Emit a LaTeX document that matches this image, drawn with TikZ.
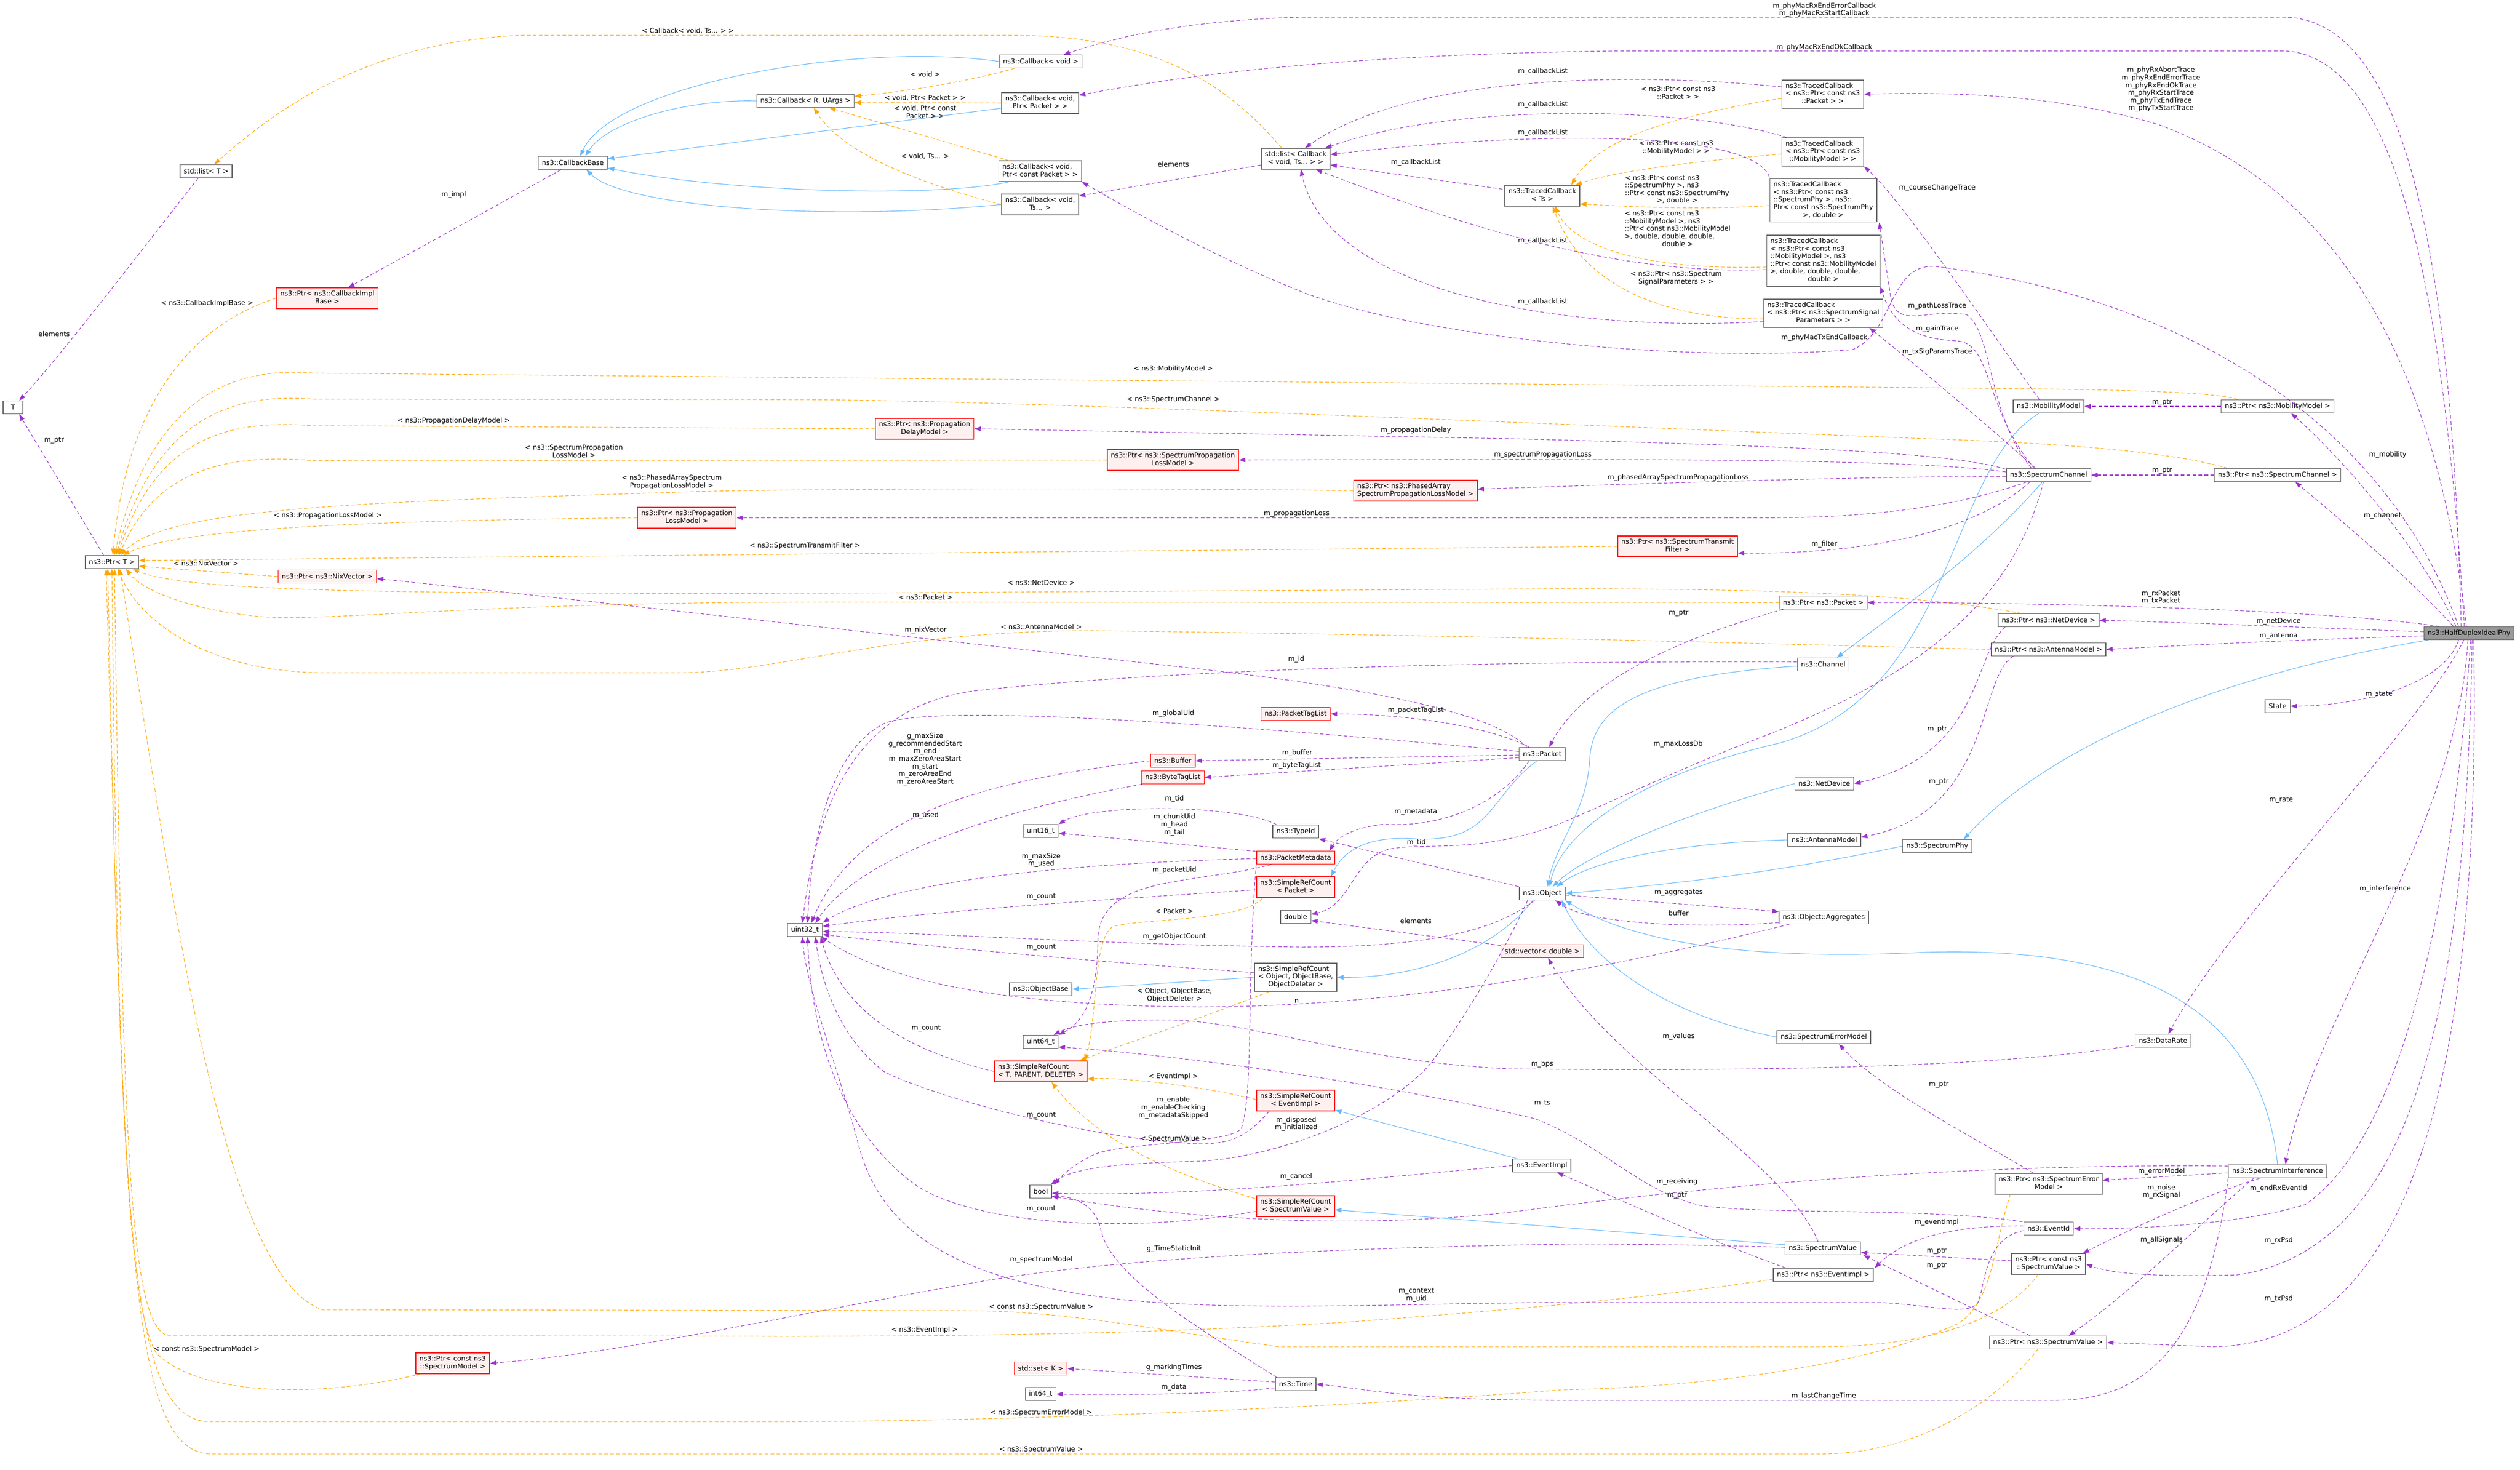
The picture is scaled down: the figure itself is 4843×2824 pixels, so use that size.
\documentclass[tikz,border=0pt]{standalone}
\usepackage{fontspec}
\setmainfont{DejaVu Sans}
\usetikzlibrary{arrows.meta,calc}
\definecolor{memberline}{HTML}{9A32CD}
\definecolor{tmplline}{HTML}{FFA500}
\definecolor{inhline}{HTML}{63B8FF}
\definecolor{boxline}{HTML}{666666}
\definecolor{redfill}{HTML}{FFF0F0}
\definecolor{rootfill}{HTML}{999999}
\newcommand{\dlines}[2]{\begin{tabular}{@{}l@{}}#1\\\multicolumn{1}{@{}c@{}}{#2}\end{tabular}}
\tikzset{
  cls/.style={draw=boxline,fill=white,line width=0.8pt,inner xsep=4pt,inner ysep=3pt,minimum height=0.5cm},
  redcls/.style={cls,draw=red,fill=redfill},
  rootcls/.style={cls,fill=rootfill},
  lbl/.style={inner sep=0pt,align=center},
  mem/.style={->,draw=memberline,line width=0.6pt,dash pattern=on 4pt off 2.5pt},
  tmpl/.style={->,draw=tmplline,line width=0.6pt,dash pattern=on 4pt off 2.5pt},
  inh/.style={->,draw=inhline,line width=0.6pt}
}
\begin{document}
\begin{tikzpicture}
  [x=0.02cm,y=-0.02cm,>={Triangle[length=7pt,width=5pt]},
   every node/.style={font=\fontsize{7.4}{8.3}\selectfont}]
  \fill[white] (0,0) rectangle (4843,2824);
  \useasboundingbox (0,0) rectangle (4843,2824);

  % classes
  \node[cls] (lstT) at (396,329) {std::list< T >};
  \node[cls] (cbbase) at (1101,313) {ns3::CallbackBase};
  \node[redcls] (ptrcib) at (629,573) {\dlines{ns3::Ptr< ns3::CallbackImpl}{Base >}};
  \node[cls,minimum width=0.76cm] (nT) at (25,783) {T};
  \node[cls] (ptrT) at (215,1080) {ns3::Ptr< T >};
  \node[redcls] (ptrnix) at (629,1108) {ns3::Ptr< ns3::NixVector >};
  \node[cls] (cbvoid) at (2000,118) {ns3::Callback< void >};
  \node[cls] (cbR) at (1548,194) {ns3::Callback< R, UArgs >};
  \node[cls] (cbpkt) at (1999,198) {\dlines{ns3::Callback< void,}{Ptr< Packet > >}};
  \node[cls] (cbcpkt) at (1999,329) {\dlines{ns3::Callback< void,}{Ptr< const Packet > >}};
  \node[cls] (cbts) at (1999,393) {\dlines{ns3::Callback< void,}{Ts... >}};
  \node[cls] (lstcb) at (2490,305) {\dlines{std::list< Callback}{< void, Ts... > >}};
  \node[cls] (tcpkt) at (3503,181) {\dlines{ns3::TracedCallback\\< ns3::Ptr< const ns3}{::Packet > >}};
  \node[cls] (tcmob) at (3503,292) {\dlines{ns3::TracedCallback\\< ns3::Ptr< const ns3}{::MobilityModel > >}};
  \node[cls] (tcts) at (2964,376) {\dlines{ns3::TracedCallback}{< Ts >}};
  \node[cls] (tcphy) at (3504,385) {\dlines{ns3::TracedCallback\\< ns3::Ptr< const ns3\\::SpectrumPhy >, ns3::\\Ptr< const ns3::SpectrumPhy}{>, double >}};
  \node[cls] (tcmob2) at (3504,501) {\dlines{ns3::TracedCallback\\< ns3::Ptr< const ns3\\::MobilityModel >, ns3\\::Ptr< const ns3::MobilityModel\\>, double, double, double,}{double >}};
  \node[cls] (tcssp) at (3504,602) {\dlines{ns3::TracedCallback\\< ns3::Ptr< ns3::SpectrumSignal}{Parameters > >}};
  \node[cls] (mob) at (3937,781) {ns3::MobilityModel};
  \node[cls] (ptrmob) at (4377,781) {ns3::Ptr< ns3::MobilityModel >};
  \node[cls] (chan) at (3937,913) {ns3::SpectrumChannel};
  \node[cls] (ptrchan) at (4377,913) {ns3::Ptr< ns3::SpectrumChannel >};
  \node[redcls] (ptrdelay) at (1777,824) {\dlines{ns3::Ptr< ns3::Propagation}{DelayModel >}};
  \node[redcls] (ptrsploss) at (2254,884) {\dlines{ns3::Ptr< ns3::SpectrumPropagation}{LossModel >}};
  \node[redcls] (ptrphased) at (2720,943) {\dlines{ns3::Ptr< ns3::PhasedArray}{SpectrumPropagationLossModel >}};
  \node[redcls] (ptrploss) at (1320,995) {\dlines{ns3::Ptr< ns3::Propagation}{LossModel >}};
  \node[redcls] (ptrfilter) at (3224,1050) {\dlines{ns3::Ptr< ns3::SpectrumTransmit}{Filter >}};
  \node[cls] (ptrpkt) at (3504,1158) {ns3::Ptr< ns3::Packet >};
  \node[cls] (ptrnd) at (3937,1192) {ns3::Ptr< ns3::NetDevice >};
  \node[cls] (ptrant) at (3937,1248) {ns3::Ptr< ns3::AntennaModel >};
  \node[rootcls] (hdip) at (4745,1217) {ns3::HalfDuplexIdealPhy};
  \node[cls] (state) at (4377,1357) {State};
  \node[cls] (channel) at (3504,1277) {ns3::Channel};
  \node[cls] (pkt) at (2964,1449) {ns3::Packet};
  \node[redcls] (ptl) at (2490,1372) {ns3::PacketTagList};
  \node[redcls] (buf) at (2254,1462) {ns3::Buffer};
  \node[redcls] (btl) at (2254,1494) {ns3::ByteTagList};
  \node[cls] (u16) at (2000,1597) {uint16\_t};
  \node[cls] (tid) at (2490,1598) {ns3::TypeId};
  \node[redcls] (pmd) at (2490,1648) {ns3::PacketMetadata};
  \node[redcls] (srcpkt) at (2490,1705) {\dlines{ns3::SimpleRefCount}{< Packet >}};
  \node[cls] (dbl) at (2490,1762) {double};
  \node[cls] (u32) at (1547,1787) {uint32\_t};
  \node[cls] (obj) at (2964,1717) {ns3::Object};
  \node[redcls] (vec) at (2964,1828) {std::vector< double >};
  \node[cls] (srcobj) at (2490,1878) {\dlines{ns3::SimpleRefCount\\< Object, ObjectBase,}{ObjectDeleter >}};
  \node[cls] (objbase) at (2000,1901) {ns3::ObjectBase};
  \node[cls] (u64) at (2000,2002) {uint64\_t};
  \node[redcls] (srcT) at (2000,2059) {\dlines{ns3::SimpleRefCount}{< T, PARENT, DELETER >}};
  \node[redcls] (srcev) at (2490,2115) {\dlines{ns3::SimpleRefCount}{< EventImpl >}};
  \node[cls] (evimpl) at (2963,2240) {ns3::EventImpl};
  \node[cls] (nbool) at (2000,2290) {bool};
  \node[redcls] (srcsv) at (2490,2318) {\dlines{ns3::SimpleRefCount}{< SpectrumValue >}};
  \node[redcls] (setK) at (2000,2630) {std::set< K >};
  \node[cls] (ntime) at (2490,2660) {ns3::Time};
  \node[cls] (i64) at (2000,2679) {int64\_t};
  \node[cls] (nd) at (3506,1506) {ns3::NetDevice};
  \node[cls] (ant) at (3506,1614) {ns3::AntennaModel};
  \node[cls] (phy) at (3723,1626) {ns3::SpectrumPhy};
  \node[cls] (aggr) at (3505,1763) {ns3::Object::Aggregates};
  \node[cls] (sem) at (3505,1993) {ns3::SpectrumErrorModel};
  \node[cls] (rate) at (4157,2000) {ns3::DataRate};
  \node[cls] (sint) at (4377,2251) {ns3::SpectrumInterference};
  \node[cls] (ptrsem) at (3937,2275) {\dlines{ns3::Ptr< ns3::SpectrumError}{Model >}};
  \node[cls] (evid) at (3937,2361) {ns3::EventId};
  \node[cls] (sv) at (3503,2399) {ns3::SpectrumValue};
  \node[cls] (ptrcsv) at (3937,2429) {\dlines{ns3::Ptr< const ns3}{::SpectrumValue >}};
  \node[cls] (ptrev) at (3504,2450) {ns3::Ptr< ns3::EventImpl >};
  \node[cls] (ptrsv) at (3936,2580) {ns3::Ptr< ns3::SpectrumValue >};
  \node[redcls] (ptrcsm) at (870,2620) {\dlines{ns3::Ptr< const ns3}{::SpectrumModel >}};

  % inheritance
  \draw[inh] (cbvoid.west) .. controls (1650,80) and (1180,160) .. ($(cbbase.north)+(14,0)$);
  \draw[inh] (cbR.west) .. controls (1330,190) and (1170,230) .. ($(cbbase.north)+(24,0)$);
  \draw[inh] ($(cbpkt.west)+(0,10)$) -- ($(cbbase.east)+(0,-8)$);
  \draw[inh] ($(cbcpkt.south west)+(20,0)$) .. controls (1800,380) and (1400,370) .. ($(cbbase.east)+(0,10)$);
  \draw[inh] (cbts.west) .. controls (1600,425) and (1200,400) .. ($(cbbase.south)+(26,0)$);
  \draw[inh] ($(mob.south)+(-18,0)$) .. controls (3740,900) and (3760,1330) .. (3420,1428) .. controls (3150,1490) and (3000,1600) .. ($(obj.north)+(14,0)$);
  \draw[inh] ($(chan.south)+(-12,0)$) .. controls (3800,1070) and (3640,1180) .. ($(channel.north)+(26,0)$);
  \draw[inh] ($(channel.west)+(0,3)$) .. controls (3150,1300) and (3060,1360) .. (3055,1460) .. controls (3050,1560) and (2990,1620) .. ($(obj.north)+(10,0)$);
  \draw[inh] ($(pkt.south)+(-10,0)$) .. controls (2860,1530) and (2870,1620) .. (2720,1612) .. controls (2620,1605) and (2580,1640) .. ($(srcpkt.north east)+(-8,0)$);
  \draw[inh] (nd.west) .. controls (3250,1560) and (3050,1640) .. ($(obj.north)+(20,0)$);
  \draw[inh] (ant.west) .. controls (3200,1620) and (3050,1660) .. ($(obj.north)+(28,0)$);
  \draw[inh] (phy.west) .. controls (3400,1680) and (3200,1700) .. (obj.east);
  \draw[inh] ($(hdip.south west)+(8,0)$) .. controls (4300,1290) and (3950,1420) .. ($(phy.north east)+(-16,0)$);
  \draw[inh] (srcobj.west) -- (objbase.east);
  \draw[inh] ($(obj.south)+(-18,0)$) .. controls (2860,1840) and (2700,1880) .. (srcobj.east);
  \draw[inh] (sem.west) .. controls (3200,1950) and (3060,1850) .. ($(obj.south)+(37,0)$);
  \draw[inh] (sint.north) .. controls (4340,1900) and (4050,1820) .. (3700,1830) .. controls (3400,1845) and (3150,1820) .. ($(obj.south)+(44,0)$);
  \draw[inh] ($(evimpl.north west)+(10,0)$) -- ($(srcev.south east)+(0,-2)$);
  \draw[inh] ($(sv.west)+(0,-7)$) -- ($(srcsv.east)+(0,7)$);

  % template instances
  \draw[tmpl] ($(cbvoid.south west)+(30,0)$) .. controls (1850,160) and (1720,178) .. ($(cbR.east)+(0,-9)$) node[lbl,at={(1778,143)}] {< void >};
  \draw[tmpl] (cbpkt.west) -- ($(cbR.east)+(0,3)$) node[lbl,at={(1778,188)}] {< void, Ptr< Packet > >};
  \draw[tmpl] ($(cbcpkt.north west)+(20,0)$) -- ($(cbR.south)+(46,0)$) node[lbl,at={(1778,217)}] {\dlines{< void, Ptr< const}{Packet > >}};
  \draw[tmpl] (cbts.west) .. controls (1720,340) and (1610,280) .. ($(cbR.south)+(16,0)$) node[lbl,at={(1778,300)}] {< void, Ts... >};
  \draw[tmpl] ($(lstcb.north)+(-27,0)$) .. controls (2350,150) and (2200,68) .. (1950,68) -- (1000,68) .. controls (700,80) and (520,220) .. ($(lstT.north east)+(-35,0)$) node[lbl,at={(1322,59)}] {< Callback< void, Ts... > >};
  \draw[tmpl] ($(tcpkt.west)+(0,8)$) .. controls (3200,225) and (3070,270) .. ($(tcts.north east)+(-17,0)$) node[lbl,at={(3225,180)}] {\dlines{< ns3::Ptr< const ns3}{::Packet > >}};
  \draw[tmpl] ($(tcmob.west)+(0,4)$) .. controls (3250,310) and (3100,330) .. ($(tcts.north east)+(-9,0)$) node[lbl,at={(3221,284)}] {\dlines{< ns3::Ptr< const ns3}{::MobilityModel > >}};
  \draw[tmpl] ($(tcphy.west)+(0,10)$) .. controls (3250,405) and (3100,395) .. ($(tcts.east)+(0,16)$) node[lbl,at={(3223,365)}] {\dlines{< ns3::Ptr< const ns3\\::SpectrumPhy >, ns3\\::Ptr< const ns3::SpectrumPhy}{>, double >}};
  \draw[tmpl] ($(tcmob2.west)+(0,12)$) .. controls (3150,520) and (3020,470) .. ($(tcts.south)+(25,0)$) node[lbl,at={(3224,441)}] {\dlines{< ns3::Ptr< const ns3\\::MobilityModel >, ns3\\::Ptr< const ns3::MobilityModel\\>, double, double, double,}{double >}};
  \draw[tmpl] ($(tcssp.west)+(0,11)$) .. controls (3150,612) and (3030,520) .. ($(tcts.south)+(20,0)$) node[lbl,at={(3221,535)}] {\dlines{< ns3::Ptr< ns3::Spectrum}{SignalParameters > >}};
  \draw[tmpl] (ptrcib.west) .. controls (350,630) and (240,800) .. ($(ptrT.north)+(2,0)$) node[lbl,at={(398,583)}] {< ns3::CallbackImplBase >};
  \draw[tmpl] ($(ptrmob.north west)+(32,0)$) .. controls (4250,750) and (4000,748) .. (3700,745) -- (600,717) .. controls (450,705) and (290,760) .. ($(ptrT.north)+(5,0)$) node[lbl,at={(2255,709)}] {< ns3::MobilityModel >};
  \draw[tmpl] ($(ptrchan.north west)+(26,0)$) .. controls (4150,862) and (3900,850) .. (3700,843) .. controls (2600,800) and (1900,768) .. (1500,768) -- (600,767) .. controls (450,755) and (300,800) .. ($(ptrT.north)+(8,0)$) node[lbl,at={(2255,768)}] {< ns3::SpectrumChannel >};
  \draw[tmpl] (ptrdelay.west) -- (600,818) .. controls (440,806) and (300,840) .. ($(ptrT.north)+(11,0)$) node[lbl,at={(872,809)}] {< ns3::PropagationDelayModel >};
  \draw[tmpl] (ptrsploss.west) -- (600,885) .. controls (440,872) and (300,900) .. ($(ptrT.north)+(14,0)$) node[lbl,at={(1103,869)}] {\dlines{< ns3::SpectrumPropagation}{LossModel >}};
  \draw[tmpl] (ptrphased.west) .. controls (2300,938) and (1500,938) .. (1300,946) .. controls (700,965) and (320,975) .. ($(ptrT.north)+(17,0)$) node[lbl,at={(1291,927)}] {\dlines{< ns3::PhasedArraySpectrum}{PropagationLossModel >}};
  \draw[tmpl] (ptrploss.west) .. controls (800,1000) and (350,1010) .. ($(ptrT.north)+(22,0)$) node[lbl,at={(630,991)}] {< ns3::PropagationLossModel >};
  \draw[tmpl] (ptrfilter.west) -- ($(ptrT.east)+(0,-3)$) node[lbl,at={(1547,1049)}] {< ns3::SpectrumTransmitFilter >};
  \draw[tmpl] (ptrnix.west) -- ($(ptrT.east)+(0,8)$) node[lbl,at={(396,1083)}] {< ns3::NixVector >};
  \draw[tmpl] ($(ptrnd.north west)+(45,0)$) .. controls (3650,1135) and (3300,1130) .. (2900,1132) -- (1600,1140) .. controls (700,1142) and (350,1135) .. ($(ptrT.south east)+(-12,0)$) node[lbl,at={(2001,1120)}] {< ns3::NetDevice >};
  \draw[tmpl] (ptrpkt.west) -- (1600,1157) .. controls (900,1157) and (650,1195) .. (500,1185) .. controls (350,1170) and (270,1130) .. ($(ptrT.south east)+(-25,0)$) node[lbl,at={(1779,1148)}] {< ns3::Packet >};
  \draw[tmpl] (ptrant.west) .. controls (3500,1240) and (2900,1222) .. (2100,1212) .. controls (1700,1212) and (1500,1293) .. (1300,1293) -- (620,1293) .. controls (380,1290) and (260,1180) .. ($(ptrT.south)+(12,0)$) node[lbl,at={(2001,1205)}] {< ns3::AntennaModel >};
  \draw[tmpl] ($(ptrcsv.south)+(-20,0)$) .. controls (3850,2540) and (3700,2588) .. (3500,2588) -- (2457,2588) .. controls (2250,2560) and (2050,2519) .. (1863,2519) -- (620,2517) .. controls (420,2450) and (330,1700) .. ($(ptrT.south)+(15,0)$) node[lbl,at={(2001,2512)}] {< const ns3::SpectrumValue >};
  \draw[tmpl] ($(ptrev.south west)+(0,-5)$) .. controls (3200,2490) and (3000,2510) .. (2600,2540) .. controls (2200,2565) and (1800,2568) .. (1500,2568) -- (320,2566) .. controls (250,2540) and (235,2200) .. ($(ptrT.south)+(5,0)$) node[lbl,at={(1777,2556)}] {< ns3::EventImpl >};
  \draw[tmpl] ($(ptrcsm.south west)+(10,0)$) .. controls (600,2690) and (380,2680) .. (300,2600) .. controls (240,2500) and (225,2000) .. (ptrT.south) node[lbl,at={(397,2593)}] {< const ns3::SpectrumModel >};
  \draw[tmpl] ($(ptrsem.south west)+(30,0)$) .. controls (3830,2400) and (3830,2500) .. (3764,2543) .. controls (3600,2620) and (3300,2665) .. (3000,2671) .. controls (2500,2710) and (1900,2732) .. (1500,2732) -- (410,2732) .. controls (250,2740) and (235,2400) .. ($(ptrT.south)+(-8,0)$) node[lbl,at={(2001,2715)}] {< ns3::SpectrumErrorModel >};
  \draw[tmpl] ($(ptrsv.south)+(-20,0)$) .. controls (3850,2680) and (3700,2794) .. (3500,2794) -- (410,2794) .. controls (250,2800) and (240,2400) .. ($(ptrT.south)+(-11,0)$) node[lbl,at={(2001,2786)}] {< ns3::SpectrumValue >};
  \draw[tmpl] ($(srcpkt.south west)+(12,0)$) .. controls (2390,1770) and (2200,1765) .. (2140,1780) .. controls (2100,1800) and (2110,1950) .. ($(srcT.north east)+(-5,0)$) node[lbl,at={(2257,1751)}] {< Packet >};
  \draw[tmpl] ($(srcobj.south west)+(28,0)$) .. controls (2300,1960) and (2150,2010) .. ($(srcT.north east)+(-15,0)$) node[lbl,at={(2257,1913)}] {\dlines{< Object, ObjectBase,}{ObjectDeleter >}};
  \draw[tmpl] ($(srcev.west)+(0,-2)$) .. controls (2300,2085) and (2150,2070) .. ($(srcT.south east)+(0,-6)$) node[lbl,at={(2255,2069)}] {< EventImpl >};
  \draw[tmpl] ($(srcsv.north west)+(-2,6)$) .. controls (2200,2240) and (2090,2170) .. ($(srcT.south)+(21,0)$) node[lbl,at={(2256,2189)}] {< SpectrumValue >};

  % members of ns3::HalfDuplexIdealPhy
  \draw[mem] ($(hdip.north)+(-15,0)$) .. controls (4710,400) and (4600,40) .. (4393,33) -- (2500,33) .. controls (2250,40) and (2120,80) .. ($(cbvoid.north east)+(-36,0)$) node[lbl,at={(3506,19)}] {m\_phyMacRxEndErrorCallback\\m\_phyMacRxStartCallback};
  \draw[mem] ($(hdip.north)+(-9,0)$) .. controls (4690,450) and (4580,110) .. (4393,98) -- (3100,98) .. controls (2600,105) and (2300,140) .. ($(cbpkt.east)+(0,-15)$) node[lbl,at={(3506,91)}] {m\_phyMacRxEndOkCallback};
  \draw[mem] ($(hdip.north)+(-5,0)$) .. controls (4680,700) and (4500,370) .. (4150,240) .. controls (3950,180) and (3750,177) .. (tcpkt.east) node[lbl,at={(4153,172)}] {m\_phyRxAbortTrace\\m\_phyRxEndErrorTrace\\m\_phyRxEndOkTrace\\m\_phyRxStartTrace\\m\_phyTxEndTrace\\m\_phyTxStartTrace};
  \draw[mem] ($(hdip.north)+(-20,0)$) .. controls (4600,850) and (4250,580) .. (3720,512) .. controls (3630,505) and (3640,640) .. (3560,672) .. controls (3200,700) and (2700,640) .. (2500,560) .. controls (2350,500) and (2200,420) .. (cbcpkt.south east) node[lbl,at={(3506,649)}] {m\_phyMacTxEndCallback};
  \draw[mem] ($(hdip.north)+(-25,0)$) .. controls (4650,1050) and (4500,880) .. ($(ptrmob.south)+(26,0)$) node[lbl,at={(4589,874)}] {m\_mobility};
  \draw[mem] ($(hdip.north)+(-30,0)$) .. controls (4640,1120) and (4500,1000) .. ($(ptrchan.south)+(34,0)$) node[lbl,at={(4578,991)}] {m\_channel};
  \draw[mem] ($(hdip.north west)+(30,0)$) .. controls (4500,1175) and (4000,1158) .. (ptrpkt.east) node[lbl,at={(4153,1148)}] {m\_rxPacket\\m\_txPacket};
  \draw[mem] ($(hdip.west)+(0,-3)$) .. controls (4400,1205) and (4200,1196) .. (ptrnd.east) node[lbl,at={(4379,1194)}] {m\_netDevice};
  \draw[mem] ($(hdip.west)+(0,5)$) .. controls (4400,1230) and (4200,1240) .. (ptrant.east) node[lbl,at={(4379,1222)}] {m\_antenna};
  \draw[mem] ($(hdip.south)+(-20,0)$) .. controls (4690,1330) and (4500,1357) .. (state.east) node[lbl,at={(4572,1334)}] {m\_state};
  \draw[mem] ($(hdip.south)+(-10,0)$) .. controls (4650,1400) and (4300,1750) .. ($(rate.north)+(10,0)$) node[lbl,at={(4384,1537)}] {m\_rate};
  \draw[mem] ($(hdip.south)+(-2,0)$) .. controls (4720,1600) and (4450,1950) .. ($(sint.north)+(15,0)$) node[lbl,at={(4584,1708)}] {m\_interference};
  \draw[mem] ($(hdip.south)+(3,0)$) .. controls (4710,1800) and (4600,2200) .. (4430,2315) .. controls (4300,2355) and (4100,2362) .. (evid.east) node[lbl,at={(4379,2284)}] {m\_endRxEventId};
  \draw[mem] ($(hdip.south)+(6,0)$) .. controls (4740,1900) and (4650,2400) .. (4300,2450) .. controls (4120,2455) and (4050,2445) .. (ptrcsv.east) node[lbl,at={(4379,2384)}] {m\_rxPsd};
  \draw[mem] ($(hdip.south)+(9,0)$) .. controls (4770,2100) and (4620,2588) .. (4250,2588) -- (ptrsv.east) node[lbl,at={(4379,2496)}] {m\_txPsd};

  % callbacks
  \draw[mem] ($(lstcb.west)+(0,12)$) -- ($(cbts.north east)+(0,4)$) node[lbl,at={(2255,316)}] {elements};
  \draw[mem] ($(tcpkt.west)+(0,-14)$) .. controls (3100,135) and (2700,150) .. ($(lstcb.north east)+(-49,0)$) node[lbl,at={(2965,137)}] {m\_callbackList};
  \draw[mem] ($(tcmob.north west)+(10,0)$) .. controls (3250,205) and (2800,195) .. ($(lstcb.north east)+(-10,0)$) node[lbl,at={(2965,201)}] {m\_callbackList};
  \draw[mem] ($(tcphy.north west)+(0,-2)$) .. controls (3370,250) and (2950,250) .. ($(lstcb.east)+(0,-8)$) node[lbl,at={(2965,255)}] {m\_callbackList};
  \draw[mem] ($(tcts.north west)+(-4,8)$) -- ($(lstcb.east)+(0,12)$) node[lbl,at={(2721,312)}] {m\_callbackList};
  \draw[mem] ($(tcmob2.west)+(0,17)$) .. controls (3100,530) and (2800,430) .. ($(lstcb.south east)+(-28,0)$) node[lbl,at={(2965,463)}] {m\_callbackList};
  \draw[mem] ($(tcssp.west)+(0,16)$) .. controls (3000,640) and (2550,560) .. ($(lstcb.south)+(10,0)$) node[lbl,at={(2965,580)}] {m\_callbackList};
  \draw[mem] ($(cbbase.south)+(-23,0)$) -- ($(ptrcib.north east)+(-58,0)$) node[lbl,at={(872,374)}] {m\_impl};
  \draw[mem] ($(lstT.south)+(-15,0)$) .. controls (280,470) and (120,680) .. ($(nT.north)+(12,0)$) node[lbl,at={(104,642)}] {elements};
  \draw[mem] ($(ptrT.north)+(-16,0)$) -- ($(nT.south)+(12,0)$) node[lbl,at={(104,846)}] {m\_ptr};

  % mobility and channel
  \draw[mem] ($(mob.north)+(-18,0)$) .. controls (3800,600) and (3650,380) .. (tcmob.south east) node[lbl,at={(3723,361)}] {m\_courseChangeTrace};
  \draw[mem] ($(chan.north)+(-33,0)$) .. controls (3820,800) and (3830,640) .. (3780,605) .. controls (3700,590) and (3640,640) .. (3632,560) -- ($(tcphy.south east)+(4,0)$) node[lbl,at={(3723,588)}] {m\_pathLossTrace};
  \draw[mem] ($(chan.north)+(-28,0)$) .. controls (3810,780) and (3830,660) .. (3760,655) .. controls (3690,652) and (3640,630) .. (tcmob2.south east) node[lbl,at={(3723,632)}] {m\_gainTrace};
  \draw[mem] ($(chan.north)+(-25,0)$) .. controls (3800,800) and (3680,700) .. ($(tcssp.south east)+(-27,0)$) node[lbl,at={(3723,676)}] {m\_txSigParamsTrace};
  \draw[mem] (ptrmob.west) -- (mob.east) node[lbl,at={(4155,773)}] {m\_ptr};
  \draw[mem] (ptrchan.west) -- (chan.east) node[lbl,at={(4155,904)}] {m\_ptr};
  \draw[mem] ($(chan.west)+(0,-11)$) .. controls (3750,868) and (3400,856) .. (2900,843) -- (ptrdelay.east) node[lbl,at={(2721,827)}] {m\_propagationDelay};
  \draw[mem] ($(chan.west)+(0,-6)$) .. controls (3700,885) and (3300,883) .. (2900,883) -- (ptrsploss.east) node[lbl,at={(2965,874)}] {m\_spectrumPropagationLoss};
  \draw[mem] ($(chan.west)+(0,3)$) .. controls (3600,915) and (3200,928) .. ($(ptrphased.east)+(0,-3)$) node[lbl,at={(3225,918)}] {m\_phasedArraySpectrumPropagationLoss};
  \draw[mem] ($(chan.south west)+(40,0)$) .. controls (3800,960) and (3650,995) .. (3400,995) -- (ptrploss.east) node[lbl,at={(2492,987)}] {m\_propagationLoss};
  \draw[mem] ($(chan.south west)+(46,0)$) .. controls (3820,1000) and (3650,1065) .. ($(ptrfilter.east)+(0,13)$) node[lbl,at={(3506,1046)}] {m\_filter};
  \draw[mem] ($(chan.south)+(-10,0)$) .. controls (3870,1150) and (3700,1300) .. (3350,1430) .. controls (3200,1490) and (3100,1540) .. (3000,1582) .. controls (2850,1640) and (2750,1620) .. (2680,1630) .. controls (2600,1640) and (2600,1740) .. ($(dbl.east)+(0,-5)$) node[lbl,at={(3225,1430)}] {m\_maxLossDb};
  \draw[mem] ($(ptrpkt.south west)+(8,0)$) .. controls (3250,1220) and (3050,1300) .. ($(pkt.north)+(13,0)$) node[lbl,at={(3226,1178)}] {m\_ptr};
  \draw[mem] ($(ptrnd.south west)+(14,0)$) .. controls (3790,1260) and (3810,1450) .. (nd.east) node[lbl,at={(3723,1401)}] {m\_ptr};
  \draw[mem] ($(ptrant.south west)+(43,0)$) .. controls (3800,1300) and (3830,1560) .. ($(ant.east)+(0,-5)$) node[lbl,at={(3726,1502)}] {m\_ptr};
  \draw[mem] ($(channel.west)+(0,-5)$) .. controls (3000,1270) and (2300,1280) .. (1870,1328) .. controls (1640,1360) and (1570,1550) .. ($(u32.north)+(-5,0)$) node[lbl,at={(2491,1267)}] {m\_id};

  % packet
  \draw[mem] ($(pkt.north west)+(15,0)$) .. controls (2880,1380) and (2700,1330) .. (2300,1285) .. controls (1800,1230) and (1000,1140) .. ($(ptrnix.east)+(0,4)$) node[lbl,at={(1779,1211)}] {m\_nixVector};
  \draw[mem] ($(pkt.north west)+(20,0)$) .. controls (2860,1395) and (2700,1372) .. (ptl.east) node[lbl,at={(2721,1365)}] {m\_packetTagList};
  \draw[mem] ($(pkt.west)+(0,2)$) -- (buf.east) node[lbl,at={(2493,1447)}] {m\_buffer};
  \draw[mem] ($(pkt.west)+(0,7)$) -- (btl.east) node[lbl,at={(2492,1471)}] {m\_byteTagList};
  \draw[mem] ($(pkt.south west)+(20,0)$) .. controls (2870,1560) and (2750,1590) .. (2660,1584) .. controls (2600,1590) and (2570,1610) .. ($(pmd.north east)+(-11,0)$) node[lbl,at={(2721,1560)}] {m\_metadata};
  \draw[mem] ($(pkt.west)+(0,-5)$) .. controls (2400,1395) and (1800,1350) .. (1700,1390) .. controls (1600,1440) and (1560,1600) .. ($(u32.north)+(5,0)$) node[lbl,at={(2255,1371)}] {m\_globalUid};
  \draw[mem] (buf.west) .. controls (1900,1500) and (1650,1560) .. ($(u32.north)+(12,0)$) node[lbl,at={(1778,1459)}] {g\_maxSize\\g\_recommendedStart\\m\_end\\m\_maxZeroAreaStart\\m\_start\\m\_zeroAreaEnd\\m\_zeroAreaStart};
  \draw[mem] ($(btl.south west)+(2,0)$) .. controls (1900,1560) and (1650,1650) .. ($(u32.north)+(20,0)$) node[lbl,at={(1779,1567)}] {m\_used};
  \draw[mem] ($(tid.north west)+(8,0)$) .. controls (2380,1545) and (2100,1545) .. (u16.north east) node[lbl,at={(2257,1535)}] {m\_tid};
  \draw[mem] ($(pmd.west)+(0,-12)$) -- ($(u16.east)+(0,4)$) node[lbl,at={(2257,1585)}] {m\_chunkUid\\m\_head\\m\_tail};
  \draw[mem] ($(pmd.west)+(0,2)$) .. controls (2000,1660) and (1700,1700) .. ($(u32.north east)+(0,-1)$) node[lbl,at={(2001,1653)}] {m\_maxSize\\m\_used};
  \draw[mem] ($(pmd.south west)+(29,0)$) .. controls (2300,1700) and (2120,1680) .. (2110,1800) .. controls (2110,1900) and (2090,1960) .. (u64.north east) node[lbl,at={(2257,1672)}] {m\_packetUid};
  \draw[mem] (pmd.south west) .. controls (2395,1900) and (2410,2100) .. (2385,2170) .. controls (2350,2200) and (2150,2195) .. (2100,2220) .. controls (2060,2240) and (2040,2260) .. ($(nbool.north east)+(4,0)$) node[lbl,at={(2255,2129)}] {m\_enable\\m\_enableChecking\\m\_metadataSkipped};
  \draw[mem] ($(srcpkt.west)+(0,5)$) .. controls (2100,1730) and (1800,1750) .. ($(u32.east)+(0,-7)$) node[lbl,at={(2001,1723)}] {m\_count};

  % object
  \draw[mem] ($(obj.west)+(0,-13)$) -- ($(tid.east)+(0,14)$) node[lbl,at={(2722,1619)}] {m\_tid};
  \draw[mem] ($(obj.south west)+(30,0)$) .. controls (2860,1800) and (2700,1820) .. (2500,1820) .. controls (2100,1815) and (1800,1792) .. ($(u32.east)+(0,3)$) node[lbl,at={(2257,1800)}] {m\_getObjectCount};
  \draw[mem] ($(srcobj.west)+(0,-9)$) .. controls (2100,1848) and (1800,1820) .. ($(u32.east)+(0,9)$) node[lbl,at={(2001,1820)}] {m\_count};
  \draw[mem] ($(aggr.south west)+(20,0)$) .. controls (3100,1860) and (2700,1935) .. (2300,1935) .. controls (1900,1932) and (1700,1880) .. ($(u32.south east)+(-4,0)$) node[lbl,at={(2492,1924)}] {n};
  \draw[mem] (srcT.west) .. controls (1750,2020) and (1620,1950) .. ($(u32.south)+(30,0)$) node[lbl,at={(1780,1976)}] {m\_count};
  \draw[mem] ($(srcev.south west)+(25,0)$) .. controls (2400,2180) and (2370,2200) .. (2300,2198) .. controls (2100,2190) and (1800,2110) .. (1700,2060) .. controls (1620,2000) and (1580,1900) .. ($(u32.south)+(20,0)$) node[lbl,at={(2001,2143)}] {m\_count};
  \draw[mem] ($(srcsv.west)+(0,10)$) .. controls (2150,2375) and (1850,2350) .. (1750,2270) .. controls (1620,2170) and (1560,2000) .. ($(u32.south)+(5,0)$) node[lbl,at={(2001,2323)}] {m\_count};
  \draw[mem] ($(obj.east)+(0,3)$) -- ($(aggr.north west)+(0,2)$) node[lbl,at={(3226,1715)}] {m\_aggregates};
  \draw[mem] ($(aggr.west)+(0,10)$) .. controls (3250,1785) and (3050,1775) .. ($(obj.south)+(25,0)$) node[lbl,at={(3226,1755)}] {buffer};
  \draw[mem] ($(obj.south)+(-28,0)$) .. controls (2880,1850) and (2800,1980) .. (2744,2050) .. controls (2650,2150) and (2450,2225) .. (2300,2232) .. controls (2150,2235) and (2060,2245) .. ($(nbool.north east)+(-2,0)$) node[lbl,at={(2491,2160)}] {m\_disposed\\m\_initialized};
  \draw[mem] ($(vec.north west)+(0,2)$) -- ($(dbl.east)+(0,7)$) node[lbl,at={(2721,1770)}] {elements};
  \draw[mem] ($(sv.north)+(-9,0)$) .. controls (3430,2230) and (3100,2050) .. ($(vec.south)+(11,0)$) node[lbl,at={(3226,1992)}] {m\_values};
  \draw[mem] ($(rate.south west)+(0,-5)$) .. controls (3800,2060) and (3200,2057) .. (2900,2054) .. controls (2600,2040) and (2400,1960) .. (2240,1960) .. controls (2120,1960) and (2060,1970) .. ($(u64.north)+(25,0)$) node[lbl,at={(2964,2045)}] {m\_bps};

  % events, time and spectrum values
  \draw[mem] ($(evid.north west)+(-2,0)$) .. controls (3700,2320) and (3400,2335) .. (3270,2317) .. controls (3150,2290) and (3080,2200) .. (2950,2150) .. controls (2700,2090) and (2300,2030) .. ($(u64.east)+(0,10)$) node[lbl,at={(2964,2120)}] {m\_ts};
  \draw[mem] ($(evid.west)+(0,4)$) .. controls (3810,2380) and (3815,2480) .. (3800,2505) .. controls (3780,2530) and (3700,2505) .. (3600,2503) -- (3000,2503) .. controls (2700,2505) and (2400,2520) .. (2170,2499) .. controls (1900,2470) and (1700,2400) .. (1650,2200) .. controls (1610,2050) and (1550,1900) .. ($(u32.south)+(-5,0)$) node[lbl,at={(2722,2489)}] {m\_context\\m\_uid};
  \draw[mem] ($(evid.west)+(0,-5)$) .. controls (3750,2355) and (3660,2380) .. ($(ptrev.north east)+(2,0)$) node[lbl,at={(3722,2349)}] {m\_eventImpl};
  \draw[mem] ($(ptrev.north west)+(25,0)$) .. controls (3300,2390) and (3100,2300) .. ($(evimpl.south east)+(-27,0)$) node[lbl,at={(3223,2297)}] {m\_ptr};
  \draw[mem] (evimpl.west) .. controls (2600,2268) and (2300,2300) .. ($(nbool.east)+(0,3)$) node[lbl,at={(2491,2261)}] {m\_cancel};
  \draw[mem] ($(sint.west)+(0,-10)$) .. controls (3700,2235) and (3200,2290) .. (2900,2330) .. controls (2600,2362) and (2300,2345) .. ($(nbool.south east)+(0,-4)$) node[lbl,at={(3223,2271)}] {m\_receiving};
  \draw[mem] ($(ntime.north west)+(3,0)$) .. controls (2300,2550) and (2130,2450) .. (2115,2360) .. controls (2105,2320) and (2070,2300) .. ($(nbool.east)+(0,9)$) node[lbl,at={(2256,2400)}] {g\_TimeStaticInit};
  \draw[mem] ($(ntime.west)+(0,-4)$) -- (setK.east) node[lbl,at={(2256,2628)}] {g\_markingTimes};
  \draw[mem] ($(ntime.west)+(0,7)$) .. controls (2350,2680) and (2150,2681) .. (i64.east) node[lbl,at={(2256,2666)}] {m\_data};
  \draw[mem] (sint.south west) .. controls (4245,2550) and (4150,2691) .. (3950,2691) -- (3000,2691) .. controls (2700,2691) and (2620,2668) .. (ntime.east) node[lbl,at={(3505,2683)}] {m\_lastChangeTime};
  \draw[mem] ($(sint.west)+(0,3)$) -- ($(ptrsem.east)+(0,-7)$) node[lbl,at={(4154,2251)}] {m\_errorModel};
  \draw[mem] ($(ptrsem.north west)+(74,0)$) .. controls (3820,2200) and (3620,2100) .. ($(sem.south)+(29,0)$) node[lbl,at={(3726,2084)}] {m\_ptr};
  \draw[mem] ($(sint.south west)+(61,0)$) .. controls (4200,2310) and (4080,2370) .. ($(ptrcsv.north east)+(-6,0)$) node[lbl,at={(4154,2290)}] {m\_noise\\m\_rxSignal};
  \draw[mem] ($(sint.south west)+(49,0)$) .. controls (4230,2350) and (4100,2480) .. ($(ptrsv.north)+(40,0)$) node[lbl,at={(4154,2383)}] {m\_allSignals};
  \draw[mem] ($(ptrcsv.west)+(0,-6)$) -- ($(sv.east)+(0,8)$) node[lbl,at={(3722,2404)}] {m\_ptr};
  \draw[mem] ($(ptrsv.north west)+(79,0)$) .. controls (3800,2520) and (3660,2450) .. ($(sv.south east)+(5,0)$) node[lbl,at={(3722,2432)}] {m\_ptr};
  \draw[mem] ($(sv.west)+(0,-2)$) .. controls (3300,2393) and (3100,2390) .. (3000,2391) .. controls (2500,2400) and (2150,2420) .. (1900,2460) .. controls (1500,2530) and (1200,2600) .. (ptrcsm.east) node[lbl,at={(2001,2421)}] {m\_spectrumModel};
\end{tikzpicture}
\end{document}
